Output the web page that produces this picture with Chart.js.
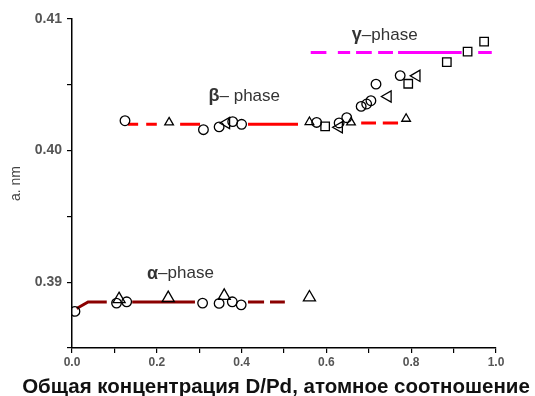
<!DOCTYPE html>
<html><head><meta charset="utf-8">
<script src="https://cdn.jsdelivr.net/npm/chart.js@4"></script>
<style>html,body{margin:0;padding:0;background:#fff}#wrap{width:535px;height:396px}</style>
</head><body><div id="wrap"><canvas id="c" width="535" height="396"></canvas></div>
<script>
// ---- data (x = D/Pd, y = lattice parameter a, nm) ----
const circleX = [0.007,0.105,0.129,0.308,0.347,0.378,0.399, 0.125,0.310,0.347,0.379,0.400,0.577,0.630,0.648, 0.682,0.695,0.705,0.717,0.774];
const circleY = [0.38778,0.38841,0.38851,0.38841,0.38839,0.38851,0.38828, 0.40227,0.40159,0.4018,0.4022,0.4020,0.40214,0.4021,0.4025, 0.40336,0.40354,0.40379,0.40505,0.40570];
const triX = [0.111,0.227,0.359,0.560];
const triY = [0.38871,0.38879,0.38896,0.38884];
const smallTriX = [0.229,0.560,0.658,0.788];
const smallTriY = [0.40214,0.40217,0.40214,0.40242];
const leftTriX = [0.364,0.630,0.745,0.813];
const leftTriY = [0.4021,0.40177,0.40411,0.40568];
const squareX = [0.597,0.793,0.884,0.933,0.972];
const squareY = [0.40184,0.40508,0.40672,0.40752,0.40828];

// phase lines (null = break)
const alphaLineX = [0.011,0.038,0.082,null,0.142,0.290,null,0.415,0.453,null,0.467,0.502];
const alphaLineY = [0.3880,0.3885,0.3885,null,0.3885,0.3885,null,0.3885,0.3885,null,0.3885,0.3885];
const betaLineX = [0.132,0.156,null,0.175,0.200,null,0.255,0.302,null,0.415,0.533,null,0.682,0.717,null,0.733,0.769];
const betaLineY = [0.4020,0.4020,null,0.4020,0.4020,null,0.4020,0.4020,null,0.4020,0.4020,null,0.4021,0.4021,null,0.4021,0.4021];
const gammaLineX = [0.563,0.600,null,0.627,0.656,null,0.670,0.707,null,0.722,0.757,null,0.769,0.919,null,0.958,0.990];
const gammaLineY = [0.40745,0.40745,null,0.40745,0.40745,null,0.40745,0.40745,null,0.40745,0.40745,null,0.40745,0.40745,null,0.40745,0.40745];

const phaseLabels = [
  {greek:'γ', text:'–phase', x:0.660, y:0.40875},
  {greek:'β', text:'– phase', x:0.322, y:0.40415},
  {greek:'α', text:'–phase', x:0.177, y:0.39065}
];
const xMin = 0, xMax = 1.0, yMin = 0.385, yMax = 0.41;
const xLabelAxis = 'Общая концентрация D/Pd, атомное соотношение';
const yLabelAxis = 'a. nm';

const pts = (xs, ys) => xs.map((x,i) => x === null ? {x:null,y:null} : {x:x, y:ys[i]});
const FAM = '"Liberation Sans", Arial, sans-serif';

const labelPlugin = {
  id:'phaseLabels',
  afterDatasetsDraw(chart){
    const ctx = chart.ctx, xs = chart.scales.x, ys = chart.scales.y;
    ctx.save();
    ctx.textBaseline = 'middle';
    ctx.fillStyle = '#333';
    phaseLabels.forEach(l => {
      let px = xs.getPixelForValue(l.x), py = ys.getPixelForValue(l.y);
      ctx.font = 'bold 18px ' + FAM;
      ctx.fillText(l.greek, px, py);
      px += ctx.measureText(l.greek).width;
      ctx.font = '17px ' + FAM;
      ctx.fillText(l.text, px, py);
    });
    // x-axis title
    ctx.font = 'bold 20.5px ' + FAM;
    ctx.fillStyle = '#111';
    ctx.textAlign = 'center';
    ctx.textBaseline = 'alphabetic';
    ctx.fillText(xLabelAxis, 276, 393);
    ctx.restore();
  }
};

const mk = (label, xs, ys, style, radius, rot) => ({
  type:'scatter', label, data: pts(xs, ys), pointStyle: style, pointRadius: radius,
  pointRotation: rot || 0, borderColor:'#000', backgroundColor:'rgba(0,0,0,0)',
  pointBorderWidth:1.3, showLine:false, order:1
});
const ln = (label, xs, ys, color) => ({
  type:'line', label, data: pts(xs, ys), borderColor: color, borderWidth: 3,
  pointRadius: 0, spanGaps: false, fill:false, tension:0, order:2
});

new Chart(document.getElementById('c'), {
  type:'scatter',
  data:{ datasets:[
    ln('alpha', alphaLineX, alphaLineY, '#8b0000'),
    ln('beta', betaLineX, betaLineY, '#ff0000'),
    ln('gamma', gammaLineX, gammaLineY, '#ff00ff'),
    mk('circles', circleX, circleY, 'circle', 4.8),
    mk('triangles', triX, triY, 'triangle', 7),
    mk('smallTriangles', smallTriX, smallTriY, 'triangle', 5),
    mk('leftTriangles', leftTriX, leftTriY, 'triangle', 6.5, -90),
    mk('squares', squareX, squareY, 'rect', 6)
  ]},
  options:{
    responsive:false, animation:false,
    layout:{ padding:{ left:0, right:39, top:19, bottom:0 } },
    plugins:{ legend:{display:false}, tooltip:{enabled:false} },
    scales:{
      x:{
        type:'linear', min:xMin, max:xMax,
        afterFit(s){ s.height = 48; },
        ticks:{ stepSize:0.1, autoSkip:false, maxRotation:0, padding:2, color:'#555',
          font:{ size:12, weight:'bold', family:FAM },
          callback:(v)=> (Math.round(v*10)%2===0 ? v.toFixed(1) : '') },
        grid:{ drawOnChartArea:false, drawTicks:true, tickLength:5, color:'#000', lineWidth:1.2 },
        border:{ display:true, color:'#000', width:1.5 },
        title:{ display:false }
      },
      y:{
        type:'linear', min:yMin, max:yMax,
        afterFit(s){ s.width = 72; },
        ticks:{ stepSize:0.005, autoSkip:false, padding:5, color:'#555',
          font:{ size:14, weight:'bold', family:FAM },
          callback:(v)=> (Math.round(v*1000)%10===0 ? v.toFixed(2) : '') },
        grid:{ drawOnChartArea:false, drawTicks:true, tickLength:5, color:'#000', lineWidth:1.2 },
        border:{ display:true, color:'#000', width:1.5 },
        title:{ display:true, text:yLabelAxis, color:'#444',
          font:{ size:14, family:FAM },
          padding:{ top:8, bottom:0 } }
      }
    }
  },
  plugins:[labelPlugin]
});
</script></body></html>
